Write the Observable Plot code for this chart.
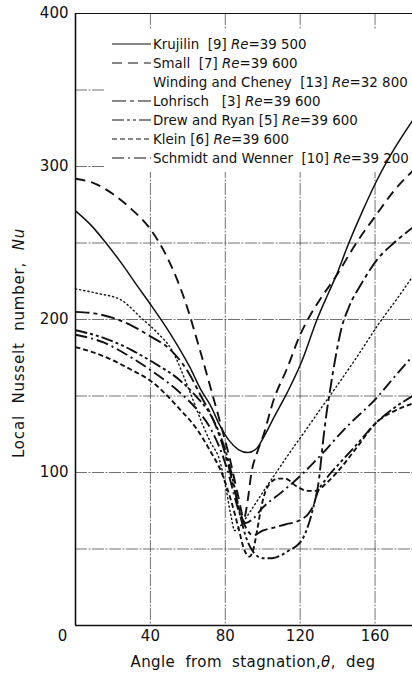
<!DOCTYPE html>
<html>
<head>
<meta charset="utf-8">
<script src="https://cdn.jsdelivr.net/npm/d3@7"></script>
<script src="https://cdn.jsdelivr.net/npm/@observablehq/plot@0.6"></script>
<style>
  html, body { margin: 0; padding: 0; background: #fff; overflow: hidden; }
  #chart svg { display: block; }
</style>
</head>
<body>
<div id="chart"></div>
<script>
// Axis ticks and grid positions
const xTicks = [40, 80, 120, 160];
const yTicks = [100, 200, 300, 400];
const gridNu = [50, 100, 150, 200, 250, 300, 350];
const gridTheta = [40, 80, 120, 160];

// Local Nusselt number around a circular cylinder, angle in degrees from stagnation
const krujilinTheta = [0, 8, 15, 25, 33, 40, 51, 61, 67, 72, 77, 82, 87, 92, 97, 100, 106, 113, 121, 129, 135, 139, 146, 153, 161, 170, 180];
const krujilinNu    = [271, 262, 252, 236, 222, 210, 190, 169, 154, 144, 131, 121, 115, 113, 116, 122, 136, 152, 173, 200, 217, 228, 250, 270, 291, 311, 330];

const smallTheta = [0, 10, 20, 30, 40, 50, 58, 66, 72, 77, 83, 87, 90, 92, 94, 97, 100, 106, 113, 120, 125, 130, 139, 150, 161, 170, 180];
const smallNu    = [292, 289, 282, 272, 259, 238, 214, 182, 156, 134, 106, 84, 70, 82, 100, 113, 123, 148, 168, 190, 202, 212, 228, 250, 269, 284, 297];

const windingTheta = [0, 12, 24, 36, 44, 51, 61, 68, 72, 77, 80, 83, 85, 88, 92, 100, 110, 115, 122, 130, 141, 150, 163, 172, 180];
const windingNu    = [220, 217, 213, 200, 191, 181, 153, 131, 120, 108, 92, 72, 62, 65, 72, 87, 105, 114, 126, 140, 159, 175, 199, 214, 228];

const lohrischTheta = [0, 10, 20, 30, 40, 50, 60, 67, 73, 78, 82, 85, 88, 91, 95, 100, 106, 112, 120, 125, 128, 130, 132, 134, 136, 139, 142, 146, 153, 161, 170, 180];
const lohrischNu    = [205, 204, 201, 196, 189, 181, 166, 150, 136, 120, 103, 88, 74, 64, 59, 62, 64, 66, 69, 74, 82, 95, 118, 138, 154, 176, 194, 208, 224, 239, 250, 260];

const drewTheta = [0, 15, 30, 40, 56, 65, 72, 78, 82, 85, 88, 91, 95, 100, 105, 110, 114, 118, 121, 125, 129, 134, 141, 150, 161, 170, 180];
const drewNu    = [193, 188, 180, 173, 160, 149, 138, 122, 106, 90, 72, 58, 48, 44, 44, 46, 49, 52, 56, 68, 86, 96, 106, 118, 133, 142, 150];

const kleinTheta = [0, 15, 30, 40, 56, 65, 72, 78, 83, 87, 90, 93, 95, 97, 99, 101, 104, 108, 112, 118, 124, 128, 134, 141, 150, 161, 170, 180];
const kleinNu    = [182, 176, 167, 160, 141, 128, 114, 100, 82, 64, 50, 45, 50, 62, 76, 86, 93, 96, 96, 91, 88, 88, 93, 102, 116, 133, 140, 145];

const schmidtTheta = [0, 15, 30, 40, 56, 65, 72, 78, 82, 85, 88, 91, 95, 100, 110, 122, 130, 145, 161, 170, 180];
const schmidtNu    = [190, 185, 175, 167, 152, 141, 129, 113, 98, 84, 72, 67, 70, 77, 87, 100, 110, 130, 149, 162, 176];

// Legend entries (investigator, reference, Reynolds number)
const legendNames = ["Krujilin  [9]", "Small  [7]", "Winding and Cheney  [13]", "Lohrisch   [3]", "Drew and Ryan [5]", "Klein [6]", "Schmidt and Wenner  [10]"];
const legendRe = ["39 500", "39 600", "32 800", "39 600", "39 600", "39 600", "39 200"];

// Line styles, one per series in legend order
const dashes = [null, "10,6", "1.2,3", "14,4,4,4", "12,3,3,3,3,3", "5,3", "12,4,2,4"];
const widths = [1.5, 1.9, 1.4, 1.9, 1.9, 1.9, 1.9];
const keySample = [true, true, false, true, true, true, true];

const seriesData = [
  [krujilinTheta, krujilinNu],
  [smallTheta, smallNu],
  [windingTheta, windingNu],
  [lohrischTheta, lohrischNu],
  [drewTheta, drewNu],
  [kleinTheta, kleinNu],
  [schmidtTheta, schmidtNu]
];

const INK = "#111";
const FONT = "'DejaVu Sans', 'Noto Sans', sans-serif";

const curveMarks = seriesData.map(([th, nu], i) =>
  Plot.line(th.map((t, k) => ({theta: t, nu: nu[k]})), {
    x: "theta",
    y: "nu",
    curve: "monotone-x",
    stroke: INK,
    strokeWidth: widths[i],
    strokeDasharray: dashes[i] || undefined,
    strokeLinecap: dashes[i] === "1.2,3" ? "round" : "butt"
  })
);

// White panel behind the key
function keyBackdrop(index, scales, values, dims) {
  const g = d3.create("svg:g");
  g.append("rect")
    .attr("x", 105).attr("y", 29)
    .attr("width", dims.width - 105).attr("height", 143)
    .attr("fill", "white");
  return g.node();
}

function keyEntries(index, scales, values, dims) {
  const g = d3.create("svg:g")
    .attr("font-family", FONT)
    .attr("font-size", 13.4)
    .attr("text-anchor", "start")
    .attr("fill", INK);
  legendNames.forEach((name, i) => {
    const y = 44 + i * 19;
    if (keySample[i]) {
      g.append("line")
        .attr("x1", 112).attr("x2", 151).attr("y1", y).attr("y2", y)
        .attr("stroke", INK).attr("stroke-width", 1.1)
        .attr("stroke-dasharray", dashes[i]);
    }
    const t = g.append("text").attr("x", 153).attr("y", y).attr("dy", "0.36em")
      .attr("text-anchor", "start")
      .style("white-space", "pre");
    t.append("tspan").text(name + " ");
    t.append("tspan").attr("font-style", "italic").text("Re");
    t.append("tspan").text("=" + legendRe[i]);
  });
  return g.node();
}

function axisTitles(index, scales, values, dims) {
  const g = d3.create("svg:g")
    .attr("font-family", FONT)
    .attr("fill", INK)
    .attr("font-size", 15);
  const xt = g.append("text")
    .attr("x", 253).attr("y", 667)
    .attr("text-anchor", "middle")
    .style("word-spacing", "5px")
    .style("letter-spacing", "0.4px");
  xt.append("tspan").text("Angle from stagnation,");
  xt.append("tspan").attr("font-style", "italic").text("θ");
  xt.append("tspan").text(", deg");
  const yt = g.append("text")
    .attr("transform", "translate(24,343) rotate(-90)")
    .attr("text-anchor", "middle")
    .style("word-spacing", "6px")
    .style("letter-spacing", "0.8px");
  yt.append("tspan").text("Local Nusselt number, ");
  yt.append("tspan").attr("font-style", "italic").text("Nu");
  return g.node();
}

const chart = Plot.plot({
  width: 412,
  height: 676,
  marginLeft: 75,
  marginRight: 0,
  marginTop: 13,
  marginBottom: 51,
  style: {fontFamily: FONT, fontSize: "14.5px", color: INK, background: "white"},
  x: {domain: [0, 180]},
  y: {domain: [0, 400]},
  marks: [
    Plot.ruleY(gridNu, {stroke: "#3a3a3a", strokeWidth: 0.8, strokeDasharray: "12,1.5,2,1.5", strokeOpacity: 0.9}),
    Plot.ruleX(gridTheta, {stroke: "#3a3a3a", strokeWidth: 0.8, strokeDasharray: "12,1.5,2,1.5", strokeOpacity: 0.9}),
    keyBackdrop,
    Plot.ruleX([0], {stroke: INK, strokeWidth: 1.6}),
    Plot.ruleY([0], {stroke: INK, strokeWidth: 1.6}),
    Plot.ruleY([400], {stroke: INK, strokeWidth: 1.1}),
    ...curveMarks,
    Plot.axisY({ticks: yTicks, tickSize: 0, tickPadding: 7, label: null, fontSize: 15}),
    Plot.axisX({ticks: xTicks, tickSize: 0, tickPadding: 5, label: null, fontSize: 15}),
    Plot.axisX({ticks: [0], tickSize: 0, tickPadding: 5, label: null, fontSize: 15, dx: -13}),
    keyEntries,
    axisTitles
  ]
});

document.getElementById("chart").appendChild(chart);
</script>
</body>
</html>
